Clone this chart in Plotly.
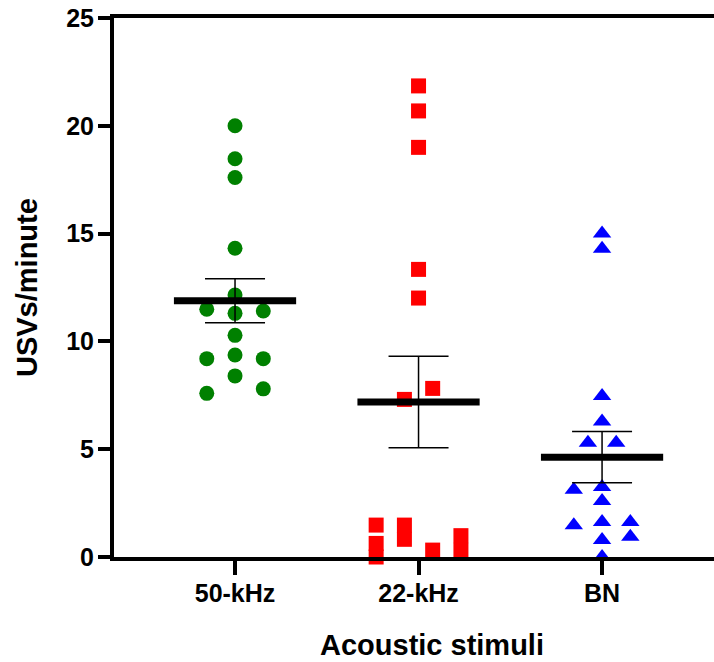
import plotly.graph_objects as go

categories = ["50-kHz", "22-kHz", "BN"]

vals_50k = [20.0, 18.47, 17.6, 14.32, 12.15, 11.49, 11.41, 11.3, 10.28, 9.2, 9.37, 9.2, 8.4, 7.59, 7.8]
slot_50k = [0, 0, 0, 0, 0, -2, 2, 0, 0, -2, 0, 2, 0, -2, 2]

vals_22k = [21.85, 20.69, 19.0, 13.34, 12.01, 7.82, 7.31, 1.48, 0.63, 0.0, 1.48, 0.82, 0.32, 0.99, 0.31]
slot_22k = [0, 0, 0, 0, 0, 1, -1, -3, -3, -3, -1, -1, 1, 3, 3]

vals_bn = [15.0, 14.3, 7.47, 6.29, 5.3, 5.3, 3.12, 3.25, 2.6, 1.47, 1.62, 1.62, 0.79, 0.94, 0.0]
slot_bn = [0, 0, 0, 0, -1, 1, -2, 0, 0, -2, 0, 2, 0, 2, 0]

means = [11.89, 7.19, 4.63]
sems = [1.02, 2.12, 1.19]

y_title = "USVs/minute"
x_title = "Acoustic stimuli"

colors = ["#008000", "#ff0000", "#0000ff"]
symbols = ["circle", "square", "triangle-up"]
SLOT = 0.077
HALF = 0.333

fig = go.Figure()
groups = [(vals_50k, slot_50k), (vals_22k, slot_22k), (vals_bn, slot_bn)]
for i, (v, s) in enumerate(groups):
    fig.add_trace(go.Scatter(
        x=[i + k * SLOT for k in s], y=v, mode="markers",
        marker=dict(symbol=symbols[i], color=colors[i], size=15 if i < 2 else 16, line=dict(width=0)),
        cliponaxis=False, showlegend=False, hoverinfo="skip"))

for i in range(3):
    fig.add_trace(go.Scatter(
        x=[i], y=[means[i]], mode="markers", marker=dict(size=1, color="rgba(0,0,0,0)"),
        error_y=dict(type="data", array=[sems[i]], color="black", thickness=1.5, width=30),
        showlegend=False, hoverinfo="skip"))
    fig.add_trace(go.Scatter(
        x=[i - HALF, i + HALF], y=[means[i], means[i]], mode="lines",
        line=dict(color="black", width=7), showlegend=False, hoverinfo="skip"))

font_family = "Liberation Sans, Arial, sans-serif"
fig.update_layout(
    width=714, height=662,
    margin=dict(l=114, r=0, t=18, b=105),
    plot_bgcolor="white", paper_bgcolor="white",
    font=dict(family=font_family, color="black"),
    xaxis=dict(
        range=[-0.6595, 2.61], tickvals=[0, 1, 2], ticktext=categories,
        showgrid=False, zeroline=False, showline=True, linecolor="black", linewidth=4,
        mirror=True, ticks="outside", ticklen=14, tickwidth=4, tickcolor="black",
        ticklabelstandoff=-3,
        tickfont=dict(size=25, family=font_family, weight="bold"),
    ),
    yaxis=dict(
        range=[0, 25], tickvals=[0, 5, 10, 15, 20, 25],
        showgrid=False, zeroline=False, showline=True, linecolor="black", linewidth=4,
        ticks="outside", ticklen=12, tickwidth=4, tickcolor="black",
        ticklabelstandoff=-1,
        tickfont=dict(size=25, family=font_family, weight="bold"),
    ),
    annotations=[
        dict(text="<b>" + x_title + "</b>", xref="paper", yref="paper",
             x=0.53, y=-0.163, xanchor="center", yanchor="middle",
             showarrow=False, font=dict(size=29, family=font_family)),
        dict(text="<b>" + y_title + "</b>", xref="paper", yref="paper",
             x=-0.1458, y=0.5, xanchor="center", yanchor="middle", textangle=-90,
             showarrow=False, font=dict(size=29, family=font_family)),
    ],
)

fig.write_html("out.html")
